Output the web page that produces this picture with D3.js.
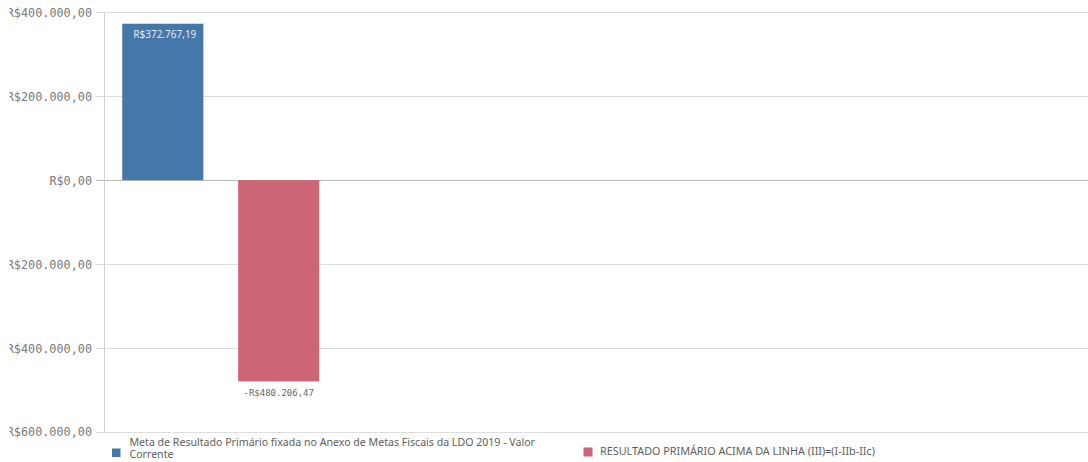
<!DOCTYPE html>
<html>
<head>
<meta charset="utf-8">
<script src="https://cdn.jsdelivr.net/npm/d3@7"></script>
<style>
  html, body { margin: 0; padding: 0; background: #fff; }
  svg { display: block; }
</style>
</head>
<body>
<svg id="chart" width="1088" height="462"></svg>
<script>
// Series shown as bars, one bar per series
const seriesNames = [
  "Meta de Resultado Primário fixada no Anexo de Metas Fiscais da LDO 2019 - Valor Corrente",
  "RESULTADO PRIMÁRIO ACIMA DA LINHA (III)=(I-IIb-IIc)"
];
const seriesValues = [372767.19, -480206.47];
const seriesColors = ["#4477aa", "#cc6677"];

// Y axis ticks
const tickValues = [400000, 200000, 0, -200000, -400000, -600000];
const yDomain = [-600000, 400000];

const ptBR = d3.formatLocale({
  decimal: ",", thousands: ".", grouping: [3],
  currency: ["R$", ""], minus: "-"
});
const money = ptBR.format("$,.2f");

const svg = d3.select("#chart");
const W = 1088;
const plotLeft = 104.5, plotRight = W, plotTop = 12.3, plotBottom = 431.7;

const y = d3.scaleLinear().domain(yDomain).range([plotBottom, plotTop]);
const x = d3.scaleBand()
  .domain(seriesNames)
  .range([plotLeft, 337])
  .paddingInner(0.3)
  .paddingOuter(0.153);

// Grid lines (they also extend left of the axis as tick marks)
svg.append("g")
  .selectAll("line")
  .data(tickValues)
  .join("line")
  .attr("x1", 96).attr("x2", plotRight)
  .attr("y1", d => Math.round(y(d)) + 0.5)
  .attr("y2", d => Math.round(y(d)) + 0.5)
  .attr("stroke", d => d === 0 ? "#b8b8b8" : "#dedede")
  .attr("stroke-width", 1);

// Vertical axis line
svg.append("line")
  .attr("x1", plotLeft).attr("x2", plotLeft)
  .attr("y1", plotTop).attr("y2", plotBottom)
  .attr("stroke", "#d0d0d0");

// Axis labels, clipped where the label panel begins
svg.append("defs").append("clipPath").attr("id", "labelClip")
  .append("rect").attr("x", 9.5).attr("y", 0).attr("width", 100).attr("height", 462);

const yAxis = d3.axisLeft(y)
  .tickValues(tickValues)
  .tickSize(0)
  .tickPadding(0)
  .tickFormat(d => money(d));

const labelLayer = svg.append("g").attr("clip-path", "url(#labelClip)");
const ax = labelLayer.append("g")
  .attr("transform", "translate(92,0)")
  .call(yAxis);
ax.select(".domain").remove();
ax.selectAll("text")
  .attr("font-family", "DejaVu Sans Mono, monospace")
  .attr("font-size", 11.8)
  .attr("fill", "#7a7a7a")
  .attr("dy", "0.36em");

// Bars
const data = seriesNames.map((n, i) => ({ name: n, value: seriesValues[i], color: seriesColors[i] }));
svg.append("g")
  .selectAll("rect")
  .data(data)
  .join("rect")
  .attr("x", d => x(d.name))
  .attr("width", x.bandwidth())
  .attr("y", d => y(Math.max(0, d.value)))
  .attr("height", d => Math.abs(y(d.value) - y(0)))
  .attr("fill", d => d.color);

// Value labels
svg.append("g")
  .selectAll("text")
  .data(data)
  .join("text")
  .attr("x", d => x(d.name) + x.bandwidth() / 2 + (d.value >= 0 ? 2 : 0))
  .attr("y", d => d.value >= 0 ? y(d.value) + 14 : y(d.value) + 15)
  .attr("text-anchor", "middle")
  .attr("font-family", d => d.value >= 0 ? "Noto Sans, sans-serif" : "DejaVu Sans Mono, monospace")
  .attr("font-size", d => d.value >= 0 ? 10 : 9)
  .attr("fill", d => d.value >= 0 ? "#e3e9f1" : "#666")
  .text(d => money(d.value));

// Legend
const legend = svg.append("g");
legend.append("rect").attr("x", 112).attr("y", 448.5).attr("width", 8.5).attr("height", 8.5).attr("fill", seriesColors[0]);
const t1 = legend.append("text")
  .attr("font-family", "Noto Sans, sans-serif")
  .attr("font-size", 10.6)
  .attr("fill", "#5e5e5e");
t1.append("tspan").attr("x", 129.5).attr("y", 446)
  .text("Meta de Resultado Primário fixada no Anexo de Metas Fiscais da LDO 2019 - Valor");
t1.append("tspan").attr("x", 129.5).attr("y", 458).text("Corrente");

legend.append("rect").attr("x", 583.5).attr("y", 447.5).attr("width", 9).attr("height", 9).attr("fill", seriesColors[1]);
legend.append("text")
  .attr("x", 600).attr("y", 455)
  .attr("font-family", "Noto Sans, sans-serif")
  .attr("font-size", 10.8)
  .attr("fill", "#5e5e5e")
  .text(seriesNames[1]);
</script>
</body>
</html>
